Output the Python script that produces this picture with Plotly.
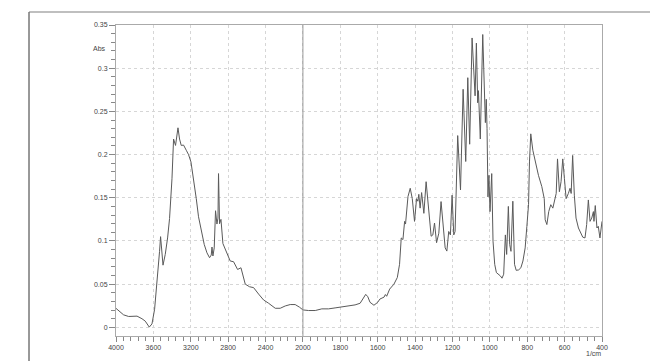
import plotly.graph_objects as go

# IR absorbance spectrum
wavenumber = [
    4000, 3954, 3919, 3865, 3775, 3722, 3687, 3644, 3615, 3587, 3561, 3534,
    3523, 3497, 3473, 3448, 3427, 3401, 3384, 3363, 3337, 3320, 3302, 3277,
    3248, 3224, 3198, 3170, 3141, 3117, 3088, 3056, 3027, 2999, 2981, 2973,
    2963, 2949, 2935, 2920, 2909, 2903, 2892, 2877, 2856, 2813, 2778, 2742,
    2699, 2663, 2617, 2571, 2528, 2474, 2421, 2367, 2296, 2243, 2189, 2136,
    2083, 2036, 2000, 1970, 1934, 1899, 1863, 1828, 1792, 1757, 1721, 1694,
    1677, 1664, 1653, 1641, 1620, 1600, 1588, 1581, 1566, 1559, 1552, 1536,
    1513, 1495, 1483, 1474, 1465, 1456, 1451, 1438, 1426, 1415, 1403, 1392,
    1385, 1380, 1373, 1365, 1353, 1341, 1328, 1314, 1305, 1296, 1285, 1273,
    1261, 1250, 1239, 1230, 1220, 1211, 1202, 1193, 1186, 1172, 1157, 1143,
    1129, 1118, 1108, 1095, 1084, 1079, 1072, 1065, 1061, 1051, 1038, 1024,
    1019, 1015, 1010, 1005, 999, 990, 983, 974, 965, 953, 944, 935,
    926, 917, 910, 901, 894, 887, 877, 868, 859, 846, 834, 823,
    811, 802, 793, 788, 781, 770, 757, 740, 722, 709, 704, 695,
    685, 674, 663, 654, 645, 638, 628, 619, 610, 601, 592, 580,
    571, 565, 557, 548, 539, 526, 514, 503, 491, 482, 473, 464,
    455, 446, 443, 436, 427, 420, 411, 400,
]
absorbance = [
    0.022, 0.0175, 0.0145, 0.0126, 0.013, 0.010, 0.0072, 0.0003, 0.004, 0.021, 0.050, 0.088,
    0.105, 0.072, 0.0845, 0.1035, 0.126, 0.172, 0.218, 0.2106, 0.231, 0.218, 0.2106, 0.211,
    0.205, 0.200, 0.1915, 0.172, 0.149, 0.128, 0.111, 0.096, 0.0863, 0.0806, 0.0837, 0.093,
    0.0826, 0.092, 0.135, 0.1196, 0.1265, 0.178, 0.120, 0.125, 0.097, 0.085, 0.0768, 0.076,
    0.067, 0.069, 0.050, 0.047, 0.046, 0.0385, 0.0317, 0.0279, 0.0221, 0.0221, 0.0248, 0.0264,
    0.0264, 0.0233, 0.0202, 0.0195, 0.0195, 0.0214, 0.0214, 0.0225, 0.0237, 0.0248, 0.026, 0.0279,
    0.0336, 0.0382, 0.0355, 0.029, 0.0256, 0.029, 0.0328, 0.0336, 0.035, 0.038, 0.036, 0.0443,
    0.050, 0.0577, 0.073, 0.1035, 0.1016, 0.1227, 0.1196, 0.1514, 0.161, 0.149, 0.1227, 0.149,
    0.146, 0.154, 0.138, 0.156, 0.132, 0.1686, 0.136, 0.1055, 0.107, 0.1208, 0.098, 0.109,
    0.1456, 0.117, 0.092, 0.0883, 0.111, 0.107, 0.153, 0.107, 0.111, 0.222, 0.159, 0.2756,
    0.192, 0.289, 0.212, 0.335, 0.293, 0.268, 0.329, 0.26, 0.274, 0.218, 0.339, 0.237,
    0.264, 0.23, 0.151, 0.176, 0.134, 0.178, 0.0998, 0.073, 0.0634, 0.0615, 0.0596, 0.0569,
    0.0615, 0.107, 0.0844, 0.14, 0.096, 0.088, 0.146, 0.073, 0.066, 0.0665, 0.069, 0.0768,
    0.092, 0.117, 0.142, 0.1915, 0.224, 0.205, 0.1915, 0.176, 0.163, 0.149, 0.1245, 0.119,
    0.134, 0.142, 0.138, 0.1456, 0.155, 0.195, 0.157, 0.1686, 0.195, 0.172, 0.149, 0.155,
    0.161, 0.155, 0.199, 0.153, 0.1265, 0.115, 0.109, 0.1044, 0.1035, 0.119, 0.1475, 0.1227,
    0.1265, 0.134, 0.1227, 0.141, 0.115, 0.117, 0.1035, 0.1227,
]

x_tick_labels = [4000, 3600, 3200, 2800, 2400, 2000, 1800, 1600,
                 1400, 1200, 1000, 800, 600, 400]
y_tick_vals = [0, 0.05, 0.1, 0.15, 0.2, 0.25, 0.3, 0.35]
y_tick_text = ['0', '0.05', '0.1', '0.15', '0.2', '0.25', '0.3', '0.35']


def to_axis(v):
    """Split scale: 400 /cm per division above 2000, 200 /cm below"""
    if v >= 2000:
        return (4000 - v) / 400.0
    return 5 + (2000 - v) / 200.0


xu = [to_axis(v) for v in wavenumber]
x_ticks = [to_axis(v) for v in x_tick_labels]
x_minor = [i / 5.0 for i in range(0, 66) if i % 5]
y_minor = [i / 100.0 for i in range(0, 35) if i % 5]

font = dict(family='Liberation Sans, Arial, sans-serif', size=7, color='#444')

fig = go.Figure()
fig.add_trace(go.Scatter(
    x=xu, y=absorbance, mode='lines',
    line=dict(color='#5a5a5a', width=1),
    showlegend=False, hoverinfo='skip',
))

fig.update_layout(
    width=650, height=363,
    margin=dict(l=116, r=48, t=25, b=24),
    plot_bgcolor='white', paper_bgcolor='white',
    font=font,
    xaxis=dict(
        range=[0, 13], tickmode='array', tickvals=x_ticks,
        ticktext=[str(t) for t in x_tick_labels],
        showline=True, linecolor='#aaa', linewidth=1, mirror=True,
        ticks='outside', ticklen=5, tickcolor='#888', tickwidth=1,
        showgrid=True, gridcolor='#d6d6d6', griddash='dot', gridwidth=1,
        zeroline=False, tickfont=font,
        minor=dict(tickvals=x_minor, ticks='outside', ticklen=4,
                   tickcolor='#888', showgrid=False),
    ),
    yaxis=dict(
        range=[-0.01, 0.35], tickmode='array', tickvals=y_tick_vals,
        ticktext=y_tick_text,
        showline=True, linecolor='#aaa', linewidth=1, mirror=True,
        ticks='outside', ticklen=6, tickcolor='#888', tickwidth=1,
        showgrid=True, gridcolor='#d6d6d6', griddash='dot', gridwidth=1,
        zeroline=False, tickfont=font,
        minor=dict(tickvals=y_minor, ticks='outside', ticklen=4,
                   tickcolor='#888', showgrid=False),
    ),
    shapes=[
        # scale change divider at 2000
        dict(type='line', xref='x', yref='paper', x0=5, x1=5, y0=0, y1=1,
             line=dict(color='#999', width=1)),
        # outer frame
        dict(type='line', xref='paper', yref='paper', x0=-0.179, x1=1.1,
             y0=1.0414, y1=1.0414, line=dict(color='#aaa', width=1.5)),
        dict(type='line', xref='paper', yref='paper', x0=-0.179, x1=-0.179,
             y0=1.0414, y1=-0.08, line=dict(color='#777', width=1.5)),
    ],
    annotations=[
        dict(text='Abs', xref='paper', yref='paper', x=-0.033, y=0.925,
             showarrow=False, xanchor='center', yanchor='middle', font=font),
        dict(text='1/cm', xref='paper', yref='paper', x=0.982, y=-0.055,
             showarrow=False, xanchor='center', yanchor='middle', font=font),
    ],
)

fig.write_html("out.html",
               config={'displayModeBar': False},
               post_script="document.body.style.margin='0';"
                           "document.body.style.overflow='hidden';")
